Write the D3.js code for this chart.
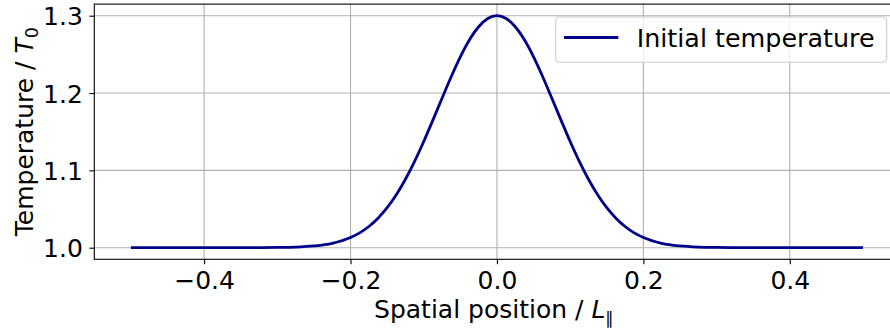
<!DOCTYPE html>
<html>
<head>
<meta charset="utf-8">
<script src="https://cdn.jsdelivr.net/npm/d3@7"></script>
<style>
  html, body { margin: 0; padding: 0; background: #fff; }
  svg { display: block; font-family: "DejaVu Sans", sans-serif; }
</style>
</head>
<body>
<svg id="chart" width="890" height="333"></svg>
<script>
// ---- data ----
const positions = [
  -0.5, -0.475, -0.45, -0.425, -0.4, -0.375, -0.35, -0.325, -0.3, -0.275,
  -0.25, -0.225, -0.2, -0.1875, -0.175, -0.1625, -0.15, -0.1375, -0.125, -0.1125,
  -0.1, -0.0875, -0.075, -0.0625, -0.05, -0.0375, -0.025, -0.0125,
  0,
  0.0125, 0.025, 0.0375, 0.05, 0.0625, 0.075, 0.0875, 0.1, 0.1125, 0.125,
  0.1375, 0.15, 0.1625, 0.175, 0.1875, 0.2, 0.225, 0.25,
  0.275, 0.3, 0.325, 0.35, 0.375, 0.4, 0.425, 0.45, 0.475, 0.5
];
const temperature = [
  1.0, 1.0, 1.0, 1.0, 1.0, 1.0, 1.0, 1.0001, 1.0003, 1.0008,
  1.0023, 1.0057, 1.0132, 1.0192, 1.0274, 1.0381, 1.0517, 1.0685, 1.0885, 1.1116,
  1.1373, 1.1650, 1.1933, 1.2211, 1.2468, 1.2688, 1.2857, 1.2964,
  1.3,
  1.2964, 1.2857, 1.2688, 1.2468, 1.2211, 1.1933, 1.1650, 1.1373, 1.1116, 1.0885,
  1.0685, 1.0517, 1.0381, 1.0274, 1.0192, 1.0132, 1.0057, 1.0023,
  1.0008, 1.0003, 1.0001, 1.0, 1.0, 1.0, 1.0, 1.0, 1.0, 1.0
];
const xTicks = [-0.4, -0.2, 0.0, 0.2, 0.4];
const yTicks = [1.0, 1.1, 1.2, 1.3];
const seriesName = "Initial temperature";

(function () {
// ---- layout ----
const svg = d3.select("#chart");
const pLeft = 94.3, pRight = 899.6, pTop = 4.1, pBottom = 259.3;
const x = d3.scaleLinear().domain([-0.55, 0.55]).range([pLeft, pRight]);
const y = d3.scaleLinear().domain([0.985, 1.315]).range([pBottom, pTop]);
const fs = 25;
const fmt = d3.format(".1f");

// grid
const grid = svg.append("g");
grid.selectAll("line.gx").data(xTicks).join("line")
  .attr("class", "gx")
  .attr("x1", d => x(d)).attr("x2", d => x(d))
  .attr("y1", pTop).attr("y2", pBottom)
  .attr("stroke", "#b0b0b0").attr("stroke-width", 1.1);
grid.selectAll("line.gy").data(yTicks).join("line")
  .attr("class", "gy")
  .attr("x1", pLeft).attr("x2", pRight)
  .attr("y1", d => y(d)).attr("y2", d => y(d))
  .attr("stroke", "#b0b0b0").attr("stroke-width", 1.1);

// line
const data = positions.map((p, i) => [p, temperature[i]]);
svg.append("path")
  .datum(data)
  .attr("fill", "none")
  .attr("stroke", "#00008b")
  .attr("stroke-width", 2.8)
  .attr("stroke-linejoin", "round")
  .attr("d", d3.line().x(d => x(d[0])).y(d => y(d[1])).curve(d3.curveMonotoneX));

// axes
const xAxis = svg.append("g").attr("transform", `translate(0,${pBottom})`)
  .call(d3.axisBottom(x).tickValues(xTicks).tickFormat(fmt).tickSize(4.9).tickPadding(6));
const yAxis = svg.append("g").attr("transform", `translate(${pLeft},0)`)
  .call(d3.axisLeft(y).tickValues(yTicks).tickFormat(fmt).tickSize(4.9).tickPadding(7));
[xAxis, yAxis].forEach(g => {
  g.select(".domain").remove();
  g.selectAll(".tick line").attr("stroke", "#000").attr("stroke-width", 1.1);
  g.selectAll(".tick text").attr("fill", "#000")
    .style("font-size", fs + "px").style("font-family", "DejaVu Sans, sans-serif");
});
xAxis.selectAll(".tick text").attr("dy", null).attr("y", 30);
yAxis.selectAll(".tick text").attr("dy", "0.36em").attr("x", -11.5);

// spines
svg.append("rect")
  .attr("x", pLeft).attr("y", pTop)
  .attr("width", pRight - pLeft).attr("height", pBottom - pTop)
  .attr("fill", "none").attr("stroke", "#000").attr("stroke-width", 1.1);

// axis labels
const xl = svg.append("text")
  .attr("x", (pLeft + pRight) / 2 - 3).attr("y", 318)
  .attr("text-anchor", "middle")
  .style("font-size", fs + "px");
xl.append("tspan").text("Spatial position / ");
xl.append("tspan").attr("font-style", "italic").text("L");
xl.append("tspan").attr("dy", 6).style("font-size", "17px").text("\u2225");

const yl = svg.append("text")
  .attr("transform", `translate(33,${(pTop + pBottom) / 2}) rotate(-90)`)
  .attr("text-anchor", "middle")
  .style("font-size", fs + "px");
yl.append("tspan").text("Temperature / ");
yl.append("tspan").attr("font-style", "italic").text("T");
yl.append("tspan").attr("dy", 5).style("font-size", "17.5px").text("0");

// legend
const lg = svg.append("g");
lg.append("rect")
  .attr("x", 555.7).attr("y", 17).attr("width", 331).attr("height", 45.3)
  .attr("rx", 4).attr("ry", 4)
  .attr("fill", "#fff").attr("fill-opacity", 0.8)
  .attr("stroke", "#cccccc").attr("stroke-width", 1.1);
lg.append("line")
  .attr("x1", 564).attr("x2", 618.3).attr("y1", 37.5).attr("y2", 37.5)
  .attr("stroke", "#00008b").attr("stroke-width", 2.8);
lg.append("text")
  .attr("x", 636.7).attr("y", 46.5)
  .style("font-size", "25.4px")
  .text(seriesName);
})();
</script>
</body>
</html>
